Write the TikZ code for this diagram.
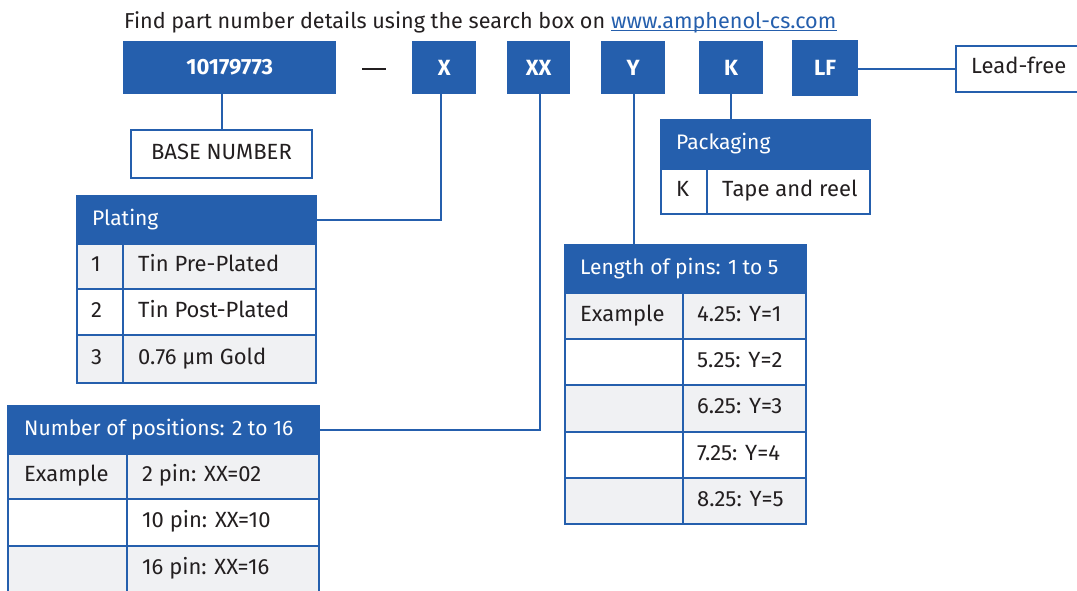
\documentclass[tikz,border=0pt]{standalone}
\usepackage{fontspec}
\setmainfont{Fira Sans}
\definecolor{ablue}{HTML}{255FAD}
\definecolor{agray}{HTML}{F0F1F3}
\definecolor{atext}{HTML}{231F20}
\tikzset{
 topbox/.style={fill=ablue, draw=none, text=white, font=\fontsize{22}{26}\selectfont\bfseries, inner sep=0pt, anchor=north west},
 cellbox/.style={draw=ablue, line width=2pt, inner sep=0pt, anchor=north west},
 hdr/.style={cellbox, fill=ablue},
 grayc/.style={cellbox, fill=agray},
 whitec/.style={cellbox, fill=white},
 txt/.style={font=\fontsize{22}{26}\selectfont, text=atext, anchor=west, inner sep=0pt, text height=15pt, text depth=5pt},
 htxt/.style={txt, font=\fontsize{21}{24}\selectfont, text=white},
 conn/.style={draw=ablue, line width=2pt},
}
\newcommand{\boxcell}[7]{\node[#1, minimum width={#5-#3}, minimum height={#6-#4}] (#2) at (#3,#4) {#7};}
\begin{document}
\begin{tikzpicture}[x=1pt,y=-1pt]
\useasboundingbox[fill=white] (0,0) rectangle (1077,590);
% title
\node[font=\fontsize{21.6}{24}\selectfont, text=atext, anchor=base west, inner sep=0pt] (title) at (124,28) {Find part number details using the search box on};
\node[font=\fontsize{21.6}{24}\selectfont, text=ablue, anchor=base west, inner sep=0pt] (url) at ([xshift=5.5pt]title.base east) {www.amphenol-cs.com};
\draw[ablue, line width=1.2pt] ([yshift=-2.5pt]url.base west) -- ([yshift=-2.5pt]url.base east);
% top boxes
\boxcell{topbox}{b0}{123}{41}{336}{94}{10179773}
\node[text=atext, inner sep=0pt] (dash) at (374,69) {\rule{24pt}{2.4pt}};
\boxcell{topbox}{bX}{412}{41}{476}{94}{X}
\boxcell{topbox}{bXX}{507}{41}{570}{94}{XX}
\boxcell{topbox}{bY}{601}{41}{665}{94}{Y}
\boxcell{topbox}{bK}{699}{41}{763}{94}{K}
\boxcell{topbox}{bLF}{792}{40}{858}{96}{LF}
\boxcell{whitec}{lead}{955}{45}{1090}{91}{}
\node[txt] (leadt) at (971,68) {Lead-free};
% base number
\boxcell{whitec}{base}{130}{129}{311}{177}{}
\node[txt, anchor=center] (baset) at (base.center) {BASE NUMBER};
% Plating
\boxcell{hdr}{plH}{76}{195}{315}{243}{}
\node[htxt] (plHt) at ([xshift=16pt]plH.west) {Plating};
\boxcell{grayc}{pla}{76}{243}{122}{288}{}
\boxcell{grayc}{plb}{122}{243}{315}{288}{}
\boxcell{whitec}{plc}{76}{288}{122}{334}{}
\boxcell{whitec}{pld}{122}{288}{315}{334}{}
\boxcell{grayc}{ple}{76}{334}{122}{382}{}
\boxcell{grayc}{plf}{122}{334}{315}{382}{}
\node[txt] (plat) at ([xshift=15pt]pla.west) {1};
\node[txt] (plbt) at ([xshift=16pt]plb.west) {Tin Pre-Plated};
\node[txt] (plct) at ([xshift=15pt]plc.west) {2};
\node[txt] (pldt) at ([xshift=16pt]pld.west) {Tin Post-Plated};
\node[txt] (plet) at ([xshift=15pt]ple.west) {3};
\node[txt] (plft) at ([xshift=16pt]plf.west) {0.76 µm Gold};
% Number of positions
\boxcell{hdr}{nH}{7}{405}{318}{453}{}
\node[htxt] (nHt) at ([xshift=17pt]nH.west) {Number of positions: 2 to 16};
\boxcell{grayc}{na}{7}{453}{126}{498}{}
\boxcell{grayc}{nb}{126}{453}{318}{498}{}
\boxcell{whitec}{nc}{7}{498}{126}{545}{}
\boxcell{whitec}{nd}{126}{498}{318}{545}{}
\boxcell{grayc}{ne}{7}{545}{126}{592}{}
\boxcell{grayc}{nf}{126}{545}{318}{592}{}
\node[txt] (nat) at ([xshift=17pt]na.west) {Example};
\node[txt] (nbt) at ([xshift=16pt]nb.west) {2 pin: XX=02};
\node[txt] (ndt) at ([xshift=16pt]nd.west) {10 pin: XX=10};
\node[txt] (nft) at ([xshift=16pt]nf.west) {16 pin: XX=16};
% Length of pins
\boxcell{hdr}{lH}{564}{244}{805}{292}{}
\node[htxt] (lHt) at ([xshift=16pt]lH.west) {Length of pins: 1 to 5};
\boxcell{grayc}{la}{564}{292}{682}{338}{}
\boxcell{grayc}{lb}{682}{292}{805}{338}{}
\boxcell{whitec}{lc}{564}{338}{682}{384}{}
\boxcell{whitec}{ld}{682}{338}{805}{384}{}
\boxcell{grayc}{le}{564}{384}{682}{431}{}
\boxcell{grayc}{lf}{682}{384}{805}{431}{}
\boxcell{whitec}{lg}{564}{431}{682}{477}{}
\boxcell{whitec}{lh}{682}{431}{805}{477}{}
\boxcell{grayc}{li}{564}{477}{682}{523}{}
\boxcell{grayc}{lj}{682}{477}{805}{523}{}
\node[txt] (lat) at ([xshift=16pt]la.west) {Example};
\node[txt] (lbt) at ([xshift=15pt]lb.west) {4.25: Y=1};
\node[txt] (ldt) at ([xshift=15pt]ld.west) {5.25: Y=2};
\node[txt] (lft) at ([xshift=15pt]lf.west) {6.25: Y=3};
\node[txt] (lht) at ([xshift=15pt]lh.west) {7.25: Y=4};
\node[txt] (ljt) at ([xshift=15pt]lj.west) {8.25: Y=5};
% Packaging
\boxcell{hdr}{pH}{660}{119}{869}{168}{}
\node[htxt] (pHt) at ([xshift=16pt]pH.west) {Packaging};
\boxcell{whitec}{pa}{660}{168}{706}{213}{}
\boxcell{whitec}{pb}{706}{168}{869}{213}{}
\node[txt] (pat) at ([xshift=16pt]pa.west) {K};
\node[txt] (pbt) at ([xshift=16pt]pb.west) {Tape and reel};
% connectors
\draw[conn] (base.north) -- (base.north |- b0.south);
\draw[conn] ([xshift=-3pt]bX.south) |- (plH.east);
\draw[conn] ([xshift=1pt]bXX.south -| 539,0) |- (nH.east);
\draw[conn] ([xshift=1pt]bY.south) -- ([xshift=1pt]bY.south |- lH.north);
\draw[conn] (bK.south) -- (bK.south |- pH.north);
\draw[conn] (bLF.east |- lead.west) -- (lead.west);
\end{tikzpicture}
\end{document}
